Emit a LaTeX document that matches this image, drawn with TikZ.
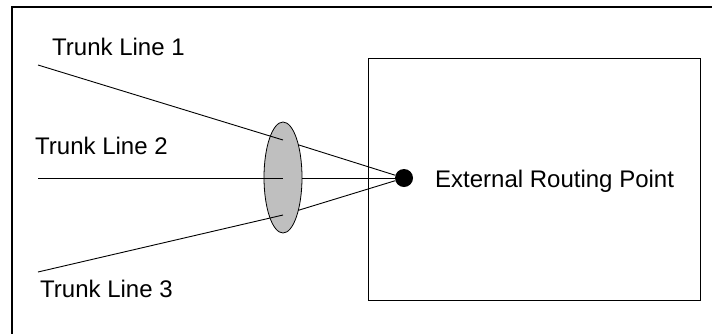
\documentclass[tikz,border=0pt]{standalone}
\usepackage{fontspec}
\setmainfont{Liberation Sans}
\usetikzlibrary{positioning}
\usetikzlibrary{shapes.geometric}
\tikzset{x=1pt, y=-1pt,
caption/.style={
anchor=base west,
inner sep=0pt,
font=\fontsize{24}{28}\selectfont},
wire/.style={
draw,
line width=0.9pt},
frame/.style={
draw,
line width=2pt},
switchbox/.style={
draw,
line width=0.9pt,
anchor=north west,
minimum width=332pt,
minimum height=242pt},
bundle/.style={
ellipse,
draw,
line width=0.8pt,
fill=gray!50,
inner sep=0pt,
minimum width=38pt,
minimum height=111pt},
routepoint/.style={
circle,
fill=black,
inner sep=0pt,
minimum size=18pt}}

\begin{document}
\begin{tikzpicture}
\clip (0,0) rectangle (712,333);
\draw[frame] (12,7) rectangle (800,400);
\node[switchbox] (switch) at (368,58) {};
\node[routepoint] (erp) at (404,178) {};
\node[caption] (erplabel) at (435,187) {External Routing Point};
\coordinate (t1) at (38,65);
\coordinate (t2) at (38,178);
\coordinate (t3) at (38,272);
\coordinate (k1) at (283,140);
\coordinate (k2) at (283,178);
\coordinate (k3) at (283,215);
\draw[wire] (k1) -- (erp);
\draw[wire] (k2) -- (erp);
\draw[wire] (k3) -- (erp);
\node[bundle] (trunks) at (283,177.5) {};
\draw[wire] (t1) -- (k1);
\draw[wire] (t2) -- (k2);
\draw[wire] (t3) -- (k3);
\node[caption] (line1) at (52,55) {Trunk Line 1};
\node[caption] (line2) at (35,154) {Trunk Line 2};
\node[caption] (line3) at (40,297) {Trunk Line 3};
\end{tikzpicture}
\end{document}
